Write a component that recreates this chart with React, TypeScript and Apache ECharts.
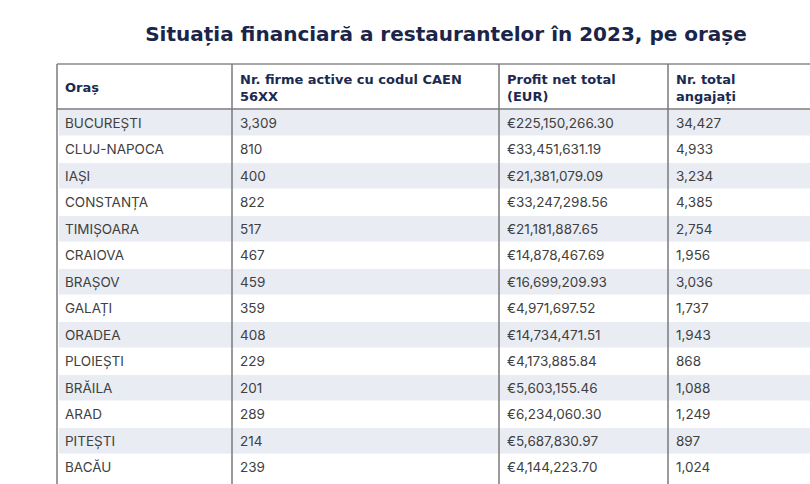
import React, { useEffect, useRef } from "react";
import * as echarts from "echarts";

const TITLE = "Situația financiară a restaurantelor în 2023, pe orașe";
const headers = ["Oraș", "Nr. firme active cu codul CAEN\n56XX", "Profit net total\n(EUR)", "Nr. total\nangajați"];
const cities = ["BUCUREȘTI", "CLUJ-NAPOCA", "IAȘI", "CONSTANȚA", "TIMIȘOARA", "CRAIOVA", "BRAȘOV", "GALAȚI", "ORADEA", "PLOIEȘTI", "BRĂILA", "ARAD", "PITEȘTI", "BACĂU"];
const firms = [3309, 810, 400, 822, 517, 467, 459, 359, 408, 229, 201, 289, 214, 239];
const profit = [225150266.30, 33451631.19, 21381079.09, 33247298.56, 21181887.65, 14878467.69, 16699209.93, 4971697.52, 14734471.51, 4173885.84, 5603155.46, 6234060.30, 5687830.97, 4144223.70];
const employees = [34427, 4933, 3234, 4385, 2754, 1956, 3036, 1737, 1943, 868, 1088, 1249, 897, 1024];

const FONT = "Inter, 'Open Sans', sans-serif";
const HFONT = "'DejaVu Sans', Inter, sans-serif";
const NAVY = "#1b2a50";
const CELL = "#404040";
const STRIPE = "#e9ecf3";
const BORDER = "#7a7a7a";
const colX = [57, 232, 499, 668];
const TABLE_TOP = 64;
const HEADER_BOTTOM = 109;
const ROW_H = 26.5;

function groupInt(n: number): string {
  const s = Math.floor(n).toString();
  return s.replace(/\B(?=(\d{3})+(?!\d))/g, ",");
}
function fmtEur(n: number): string {
  const cents = Math.round(n * 100);
  const intPart = Math.floor(cents / 100);
  const dec = (cents % 100).toString().padStart(2, "0");
  return "€" + groupInt(intPart) + "." + dec;
}

export default function App() {
  const ref = useRef<HTMLDivElement>(null);
  useEffect(() => {
    if (!ref.current) return;
    const chart = echarts.init(ref.current, null, { renderer: "svg" });
    const rows = cities.map((c, i) => [i, c, firms[i], profit[i], employees[i]]);
    const graphics: any[] = [];
    graphics.push({ type: "line", shape: { x1: colX[0], y1: TABLE_TOP, x2: 810, y2: TABLE_TOP }, style: { stroke: "#8a8a8a", lineWidth: 1.5 }, z: 10 });
    graphics.push({ type: "line", shape: { x1: colX[0], y1: HEADER_BOTTOM, x2: 810, y2: HEADER_BOTTOM }, style: { stroke: "#7a7a7a", lineWidth: 1.5 }, z: 10 });
    colX.forEach((x) => {
      graphics.push({ type: "line", shape: { x1: x, y1: TABLE_TOP, x2: x, y2: 484 }, style: { stroke: BORDER, lineWidth: 1.5 }, z: 10 });
    });
    headers.forEach((h, i) => {
      graphics.push({
        type: "text",
        x: colX[i] + 8,
        y: (TABLE_TOP + HEADER_BOTTOM) / 2 + 1,
        style: { text: h, font: `bold 13px ${HFONT}`, fill: NAVY, textVerticalAlign: "middle", lineHeight: 17 },
        z: 10,
      });
    });
    chart.setOption({
      animation: false,
      title: {
        text: TITLE,
        left: 441,
        top: 19,
        textAlign: "center",
        textStyle: { fontFamily: HFONT, fontSize: 20, fontWeight: 700, color: "#1a2549" },
      },
      grid: { left: 0, right: 0, top: HEADER_BOTTOM, height: ROW_H * cities.length },
      xAxis: { type: "value", min: 0, max: 810, show: false },
      yAxis: { type: "category", data: cities, inverse: true, show: false },
      graphic: graphics,
      series: [
        {
          type: "custom",
          data: rows,
          encode: { x: -1, y: 0 },
          renderItem: (params: any, api: any) => {
            const idx = api.value(0);
            const c = api.coord([0, idx]);
            const h = api.size([0, 1])[1];
            const top = c[1] - h / 2;
            const children: any[] = [];
            if (idx % 2 === 0) {
              children.push({ type: "rect", shape: { x: colX[0] + 2, y: top + 1, width: 810 - colX[0], height: h - 1 }, style: { fill: STRIPE } });
            }
            const texts = [cities[idx], groupInt(firms[idx]), fmtEur(profit[idx]), groupInt(employees[idx])];
            texts.forEach((t, i) => {
              children.push({
                type: "text",
                x: colX[i] + 8,
                y: c[1] + 0.5,
                style: { text: t, font: `400 13.5px ${FONT}`, fill: CELL, textVerticalAlign: "middle" },
              });
            });
            return { type: "group", children };
          },
        },
      ],
    });
    return () => chart.dispose();
  }, []);
  return <div ref={ref} style={{ position: "fixed", left: 0, top: 0, width: 810, height: 484, background: "#fff" }} />;
}
